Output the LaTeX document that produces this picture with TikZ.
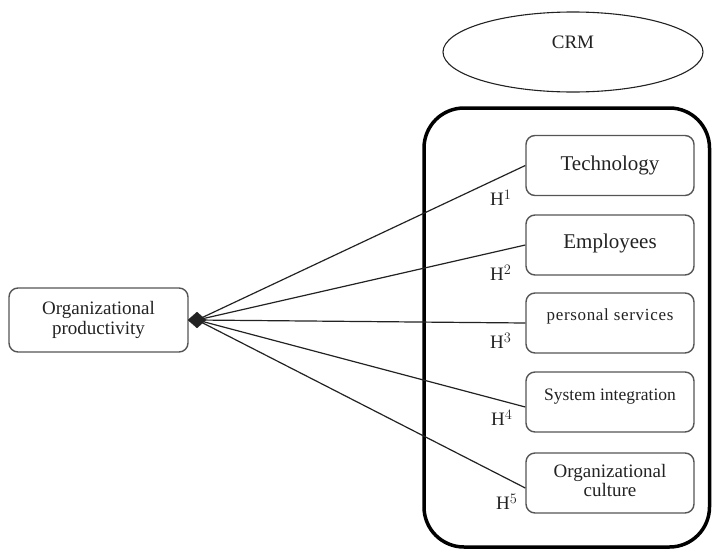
\documentclass[tikz,border=0pt]{standalone}
\usepackage{fontspec}
\setmainfont{Liberation Serif}
\usetikzlibrary{shapes.geometric}
\definecolor{txt}{HTML}{222222}
\definecolor{edge}{HTML}{555555}
\tikzset{
  factor/.style={draw=edge, line width=1.4pt, rounded corners=9pt, minimum width=168pt, minimum height=60pt, inner sep=0pt, text=txt, font=\fontsize{19}{22}\selectfont, align=center},
  link/.style={draw=txt, line width=1.2pt},
  hyp/.style={anchor=west, inner sep=0pt, text=txt, font=\fontsize{19}{22}\selectfont},
}
\begin{document}
\begin{tikzpicture}[x=1pt,y=-1pt]
\useasboundingbox (0,0) rectangle (712,549);
% CRM
\node[ellipse, draw=txt, line width=1.1pt, minimum width=260pt, minimum height=80pt, inner sep=0pt] (crm) at (573,52) {};
\node[text=txt, font=\fontsize{19}{22}\selectfont, inner sep=0pt] (crmt) at (573,42) {CRM};
% big rounded frame
\draw[line width=3.5pt, rounded corners=40pt] (424,108) rectangle (709.5,547);
% boxes
\node[factor, font=\fontsize{21}{24}\selectfont] (tech) at (610,165.5) {\raisebox{4pt}{Technology}};
\node[factor, font=\fontsize{21}{24}\selectfont] (emp) at (610,245) {\raisebox{8pt}{Employees}};
\node[factor, font=\fontsize{17}{20}\selectfont] (pers) at (610,323) {\raisebox{16pt}{\addfontfeature{LetterSpace=4}personal services}};
\node[factor, font=\fontsize{17.5}{20}\selectfont] (sys) at (610,402) {\raisebox{14pt}{System integration}};
\node[factor] (cult) at (610,483) {\raisebox{4pt}{\begin{tabular}{@{}c@{}}Organizational\\[-3pt]culture\end{tabular}}};
\node[factor, minimum width=179pt, minimum height=64pt] (prod) at (98.5,320) {Organizational\\[-2pt]productivity};
% diamond
\node[diamond, fill=txt, draw=txt, minimum width=18pt, minimum height=16pt, inner sep=0pt, aspect=1.15] (dm) at (197,320) {};
% links
\draw[link] (dm.center) -- (tech.west);
\draw[link] (dm.center) -- (emp.west);
\draw[link] (dm.center) -- (pers.west);
\draw[link] (dm.center) -- ([yshift=-5pt]sys.west);
\draw[link] (dm.center) -- ([yshift=-5pt]cult.west);
% hypothesis labels
\node[hyp] (h1) at (490,198) {H$^{1}$};
\node[hyp] (h2) at (490,273) {H$^{2}$};
\node[hyp] (h3) at (490,341) {H$^{3}$};
\node[hyp] (h4) at (491,418) {H$^{4}$};
\node[hyp] (h5) at (496,502) {H$^{5}$};
\end{tikzpicture}
\end{document}
